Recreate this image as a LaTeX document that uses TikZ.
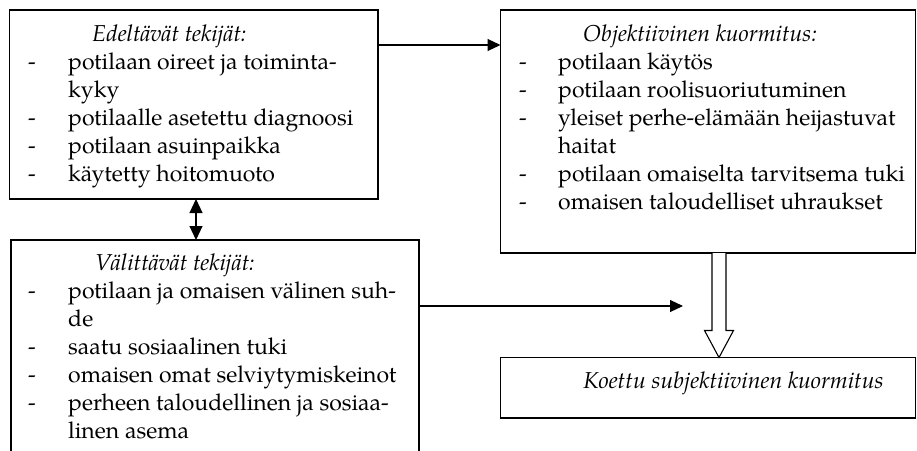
\documentclass[tikz,border=0pt]{standalone}
\usepackage{fontspec}
\setmainfont{TeX Gyre Pagella}
\usetikzlibrary{arrows.meta,calc}
\begin{document}
\begin{tikzpicture}[x=1pt,y=-1pt,
  box/.style={draw=black, line width=1.4pt, rectangle, inner sep=0pt, outer sep=0pt, anchor=north west},
  txt/.style={anchor=base west, inner sep=0pt, font=\fontsize{23}{28}\selectfont},
  ttl/.style={anchor=base west, inner sep=0pt, font=\fontsize{23}{28}\selectfont\itshape},
  link/.style={line width=1.1pt, -{Triangle[length=13pt,width=12pt]}},
  both/.style={line width=1.1pt, {Triangle[length=14pt,width=13pt]}-{Triangle[length=14pt,width=13pt]}},
  hollow/.style={line width=1.1pt, fill=white, line join=miter},
]
\useasboundingbox (0,0) rectangle (917,450);
\clip (0,0) rectangle (917,450);

% frames
\node[box, minimum width=368.5pt, minimum height=189pt] (pre) at (9.5,10) {};
\node[box, draw=none, minimum width=408pt, minimum height=230pt] (med) at (11,240) {};
\draw[line width=1.4pt] (med.south west) -- (med.north west) -- (med.north east) -- (med.south east);
\node[box, minimum width=415pt, minimum height=243pt] (obj) at (500.5,10) {};
\node[box, minimum width=415pt, minimum height=60.5pt] (res) at (500.5,357.5) {};

% antecedent factors
\node[ttl] (pre-t) at (92,41) {Edeltävät tekijät:};
\node[txt] (pre-d1) at (28,69) {-};
\node[txt] (pre-1) at (68,69) {potilaan oireet ja toiminta-};
\node[txt] (pre-1b) at (68,97) {kyky};
\node[txt] (pre-d2) at (28,125) {-};
\node[txt] (pre-2) at (68,125) {potilaalle asetettu diagnoosi};
\node[txt] (pre-d3) at (28,153) {-};
\node[txt] (pre-3) at (68,153) {potilaan asuinpaikka};
\node[txt] (pre-d4) at (28,181) {-};
\node[txt] (pre-4) at (68,181) {käytetty hoitomuoto};

% mediating factors
\node[ttl] (med-t) at (95,270) {Välittävät tekijät:};
\node[txt] (med-d1) at (28,298) {-};
\node[txt] (med-1) at (68,298) {potilaan ja omaisen välinen suh-};
\node[txt] (med-1b) at (68,326) {de};
\node[txt] (med-d2) at (28,354) {-};
\node[txt] (med-2) at (68,354) {saatu sosiaalinen tuki};
\node[txt] (med-d3) at (28,382) {-};
\node[txt] (med-3) at (68,382) {omaisen omat selviytymiskeinot};
\node[txt] (med-d4) at (28,410) {-};
\node[txt] (med-4) at (68,410) {perheen taloudellinen ja sosiaa-};
\node[txt] (med-4b) at (68,438) {linen asema};

% objective burden
\node[ttl] (obj-t) at (583,41) {Objektiivinen kuormitus:};
\node[txt] (obj-d1) at (519,69) {-};
\node[txt] (obj-1) at (558,69) {potilaan käytös};
\node[txt] (obj-d2) at (519,97) {-};
\node[txt] (obj-2) at (558,97) {potilaan roolisuoriutuminen};
\node[txt] (obj-d3) at (519,125) {-};
\node[txt] (obj-3) at (558,125) {yleiset perhe-elämään heijastuvat};
\node[txt] (obj-3b) at (558,153) {haitat};
\node[txt] (obj-d4) at (519,181) {-};
\node[txt] (obj-4) at (558,181) {potilaan omaiselta tarvitsema tuki};
\node[txt] (obj-d5) at (519,209) {-};
\node[txt] (obj-5) at (558,209) {omaisen taloudelliset uhraukset};

% subjective burden
\node[ttl] (res-t) at (583,388) {Koettu subjektiivinen kuormitus};

% connectors
\draw[link] ($(pre.north east)+(0,35)$) -- ($(obj.north west)+(0,35)$);
\coordinate (ax) at (196,0);
\draw[both] (pre.south -| ax) -- (med.north -| ax);
\coordinate (medtip) at (683,306);
\draw[link] (med.east |- medtip) -- (medtip);
\coordinate (hx) at (719,0);
\coordinate (ha) at (obj.south -| hx);
\coordinate (hb) at (res.north -| hx);
\draw[hollow] ($(ha)+(-7,0)$) -- ($(hb)+(-7,-27)$) -- ($(hb)+(-14.5,-27)$) -- (hb)
  -- ($(hb)+(14.5,-27)$) -- ($(hb)+(7,-27)$) -- ($(ha)+(7,0)$);
\end{tikzpicture}
\end{document}
